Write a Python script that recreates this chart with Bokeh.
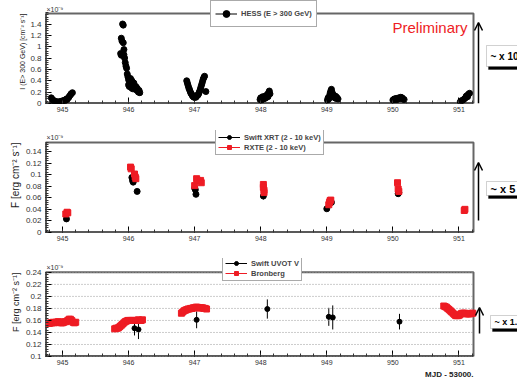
from bokeh.plotting import figure
from bokeh.layouts import column
from bokeh.models import (Label, Arrow, OpenHead, Legend, LegendItem, Whisker, Title, BoxAnnotation,
                          ColumnDataSource, CustomJSTickFormatter, Range1d, FixedTicker)
from bokeh.embed import file_html
from bokeh.resources import INLINE

FONT = "Liberation Sans"

# ---------------- data (MJD - 53000) ----------------
hess_mjd = [944.83, 944.85, 944.86, 944.88, 944.89, 944.91, 944.92, 944.94, 944.95, 944.97, 944.98,
            945.00, 945.01, 945.03, 945.04, 945.06, 945.07, 945.09, 945.10, 945.12, 945.13, 945.15,
            945.88, 945.89, 945.89, 945.90, 945.91, 945.92, 945.92, 945.93, 945.93, 945.94, 945.95,
            945.96, 945.97, 945.98, 945.99, 946.00, 946.00, 946.01, 946.02, 946.03, 946.03, 946.04,
            946.05, 946.06, 946.06, 946.07, 946.08, 946.09, 946.10, 946.11, 946.12, 946.13, 946.14,
            946.15, 946.16, 946.17,
            946.88, 946.89, 946.90, 946.91, 946.92, 946.93, 946.94, 946.95, 946.96, 946.97, 946.98,
            946.99, 947.00, 947.01, 947.02, 947.03, 947.04, 947.05, 947.06, 947.07, 947.08, 947.09,
            947.10, 947.11, 947.12, 947.13, 947.14, 947.15, 947.17,
            947.99, 948.00, 948.01, 948.02, 948.03, 948.04, 948.05, 948.06, 948.07, 948.08, 948.09,
            948.10, 948.11, 948.12, 948.13, 948.14,
            949.01, 949.02, 949.03, 949.04, 949.05, 949.06, 949.07, 949.08, 949.09, 949.10, 949.11,
            949.12, 949.13, 949.14, 949.15, 949.17,
            950.00, 950.02, 950.03, 950.05, 950.06, 950.08, 950.09, 950.11, 950.12, 950.14, 950.15,
            950.17,
            951.02, 951.04, 951.06, 951.08, 951.10, 951.11, 951.13, 951.14, 951.16]
hess_flux = [0.10, 0.07, 0.05, 0.03, 0.04, 0.02, 0.03, 0.02, 0.03, 0.02, 0.04,
             0.03, 0.05, 0.04, 0.06, 0.08, 0.07, 0.10, 0.12, 0.15, 0.17, 0.19,
             0.88, 0.85, 1.15, 1.10, 1.40, 1.38, 1.07, 0.95, 0.86, 0.80, 0.72,
             0.66, 0.62, 0.52, 0.47, 0.42, 0.33, 0.30, 0.38, 0.44, 0.34, 0.28,
             0.40, 0.35, 0.26, 0.31, 0.36, 0.29, 0.25, 0.30, 0.24, 0.27, 0.22,
             0.20, 0.23, 0.19,
             0.40, 0.36, 0.32, 0.28, 0.25, 0.22, 0.19, 0.17, 0.15, 0.13, 0.12,
             0.11, 0.11, 0.12, 0.11, 0.13, 0.14, 0.15, 0.17, 0.20, 0.23, 0.27,
             0.31, 0.35, 0.39, 0.43, 0.46, 0.48, 0.21,
             0.07, 0.10, 0.06, 0.09, 0.12, 0.08, 0.11, 0.09, 0.13, 0.10, 0.14,
             0.16, 0.12, 0.19, 0.22, 0.17,
             0.06, 0.10, 0.08, 0.13, 0.18, 0.22, 0.25, 0.20, 0.16, 0.12, 0.14,
             0.10, 0.13, 0.09, 0.11, 0.08,
             0.06, 0.08, 0.07, 0.09, 0.07, 0.08, 0.10, 0.09, 0.11, 0.10, 0.08,
             0.07,
             0.03, 0.05, 0.06, 0.08, 0.10, 0.13, 0.12, 0.16, 0.18]

xrt_mjd = [945.06, 946.05, 946.06, 946.07, 946.13, 947.00, 947.01, 947.02, 948.04, 949.00, 949.07,
           950.08, 950.09]
xrt_flux = [0.0235, 0.095, 0.090, 0.087, 0.071, 0.077, 0.074, 0.066, 0.063, 0.041, 0.052,
            0.067, 0.069]
xrt_err = [0.002, 0.003, 0.003, 0.003, 0.002, 0.003, 0.003, 0.003, 0.006, 0.002, 0.002,
           0.002, 0.002]

rxte_mjd = [945.05, 945.07, 945.08, 946.03, 946.04, 946.09, 946.10, 946.11,
            947.00, 947.03, 947.04, 947.09, 947.10, 948.04, 948.04, 948.05, 948.05,
            949.03, 949.04, 949.05, 949.06, 950.07, 950.08, 950.09, 951.08, 951.09]
rxte_flux = [0.032, 0.035, 0.034, 0.113, 0.110, 0.101, 0.096, 0.093,
             0.081, 0.093, 0.090, 0.090, 0.086, 0.083, 0.078, 0.073, 0.069,
             0.048, 0.052, 0.055, 0.056, 0.086, 0.075, 0.071, 0.038, 0.040]

uvot_mjd = [946.09, 946.15, 947.03, 948.10, 949.03, 949.09, 950.10]
uvot_flux = [0.147, 0.145, 0.161, 0.179, 0.166, 0.165, 0.158]
uvot_err = [0.012, 0.016, 0.014, 0.016, 0.015, 0.020, 0.013]

bron_mjd = [944.80, 944.82, 944.84, 944.86, 944.88, 944.90, 944.92, 944.94, 944.96, 944.98,
            945.00, 945.02, 945.04, 945.06, 945.08, 945.10, 945.12, 945.14, 945.16, 945.18,
            945.20,
            945.79, 945.81, 945.83, 945.85, 945.87, 945.89, 945.91, 945.93, 945.95, 945.97,
            945.99, 946.01, 946.03, 946.05, 946.07, 946.09, 946.11, 946.13, 946.15, 946.17,
            946.19, 946.21,
            946.80, 946.82, 946.84, 946.86, 946.88, 946.90, 946.92, 946.94, 946.96, 946.98,
            947.00, 947.02, 947.04, 947.06, 947.08, 947.10, 947.12, 947.14, 947.16, 947.18,
            950.77, 950.79, 950.81, 950.83, 950.85, 950.87, 950.89, 950.91, 950.93, 950.95,
            950.97, 950.99, 951.01, 951.03, 951.05, 951.07, 951.09, 951.11, 951.13, 951.15,
            951.17, 951.19, 951.21]
bron_flux = [0.155, 0.156, 0.156, 0.157, 0.156, 0.157, 0.157, 0.158, 0.157, 0.156,
             0.156, 0.157, 0.158, 0.158, 0.160, 0.162, 0.162, 0.160, 0.157, 0.156,
             0.157,
             0.146, 0.147, 0.147, 0.148, 0.150, 0.152, 0.154, 0.156, 0.158, 0.159,
             0.160, 0.160, 0.160, 0.160, 0.160, 0.160, 0.160, 0.160, 0.161, 0.160,
             0.160, 0.161,
             0.172, 0.174, 0.176, 0.177, 0.178, 0.179, 0.179, 0.180, 0.180, 0.181,
             0.181, 0.182, 0.182, 0.181, 0.181, 0.181, 0.181, 0.180, 0.180, 0.179,
             0.184, 0.183, 0.182, 0.180, 0.178, 0.176, 0.174, 0.172, 0.170, 0.168,
             0.168, 0.168, 0.169, 0.171, 0.172, 0.172, 0.172, 0.171, 0.171, 0.171,
             0.171, 0.172, 0.172]

x_ticks = [945, 946, 947, 948, 949, 950, 951]
y_ticks_hess = [0, 0.2, 0.4, 0.6, 0.8, 1.0, 1.2, 1.4]
y_ticks_xray = [0, 0.02, 0.04, 0.06, 0.08, 0.10, 0.12, 0.14]
y_ticks_opt = [0.10, 0.12, 0.14, 0.16, 0.18, 0.20, 0.22, 0.24]
scale_labels = ["~ x 100", "~ x 5", "~ x 1.3"]
X0, X1 = 944.743, 951.22

W = 517
FL, FR = 45, 473          # visible chart box, left/right page px
RED = "#ee1c24"
NAN = float("nan")


def steps(start, stop, step):
    n = int(round((stop - start) / step))
    return [round(start + i * step, 6) for i in range(n + 1)]


x_minor = steps(944.8, 951.2, 0.2)


def base_fig(H, T, ext_top, frame_top, frame_bottom, y0, y1, major, minor_step, ylabel, ysize):
    """Plot frame is extended up to ext_top and right to the window edge so that the
    legends, labels and scale arrows fit; the visible chart box is drawn explicitly."""
    y_ext = y0 + (y1 - y0) * (frame_bottom - ext_top) / (frame_bottom - frame_top)
    x_ext = X0 + (X1 - X0) * (W - FL) / (FR - FL)
    p = figure(width=W, height=H, output_backend="svg", toolbar_location=None,
               x_range=Range1d(X0, x_ext), y_range=Range1d(y0, y_ext))
    p.min_border_left = FL
    p.min_border_right = 0
    p.min_border_top = ext_top - T
    p.min_border_bottom = T + H - frame_bottom
    p.outline_line_color = None
    p.xgrid.visible = False
    p.ygrid.visible = False
    for ax in (p.xaxis[0], p.yaxis[0]):
        ax.major_tick_in = 6
        ax.major_tick_out = 0
        ax.minor_tick_in = 3
        ax.minor_tick_out = 0
        ax.major_label_text_font = FONT
        ax.major_label_text_color = "#333333"
        ax.minor_tick_line_color = "#333333"
        ax.axis_line_color = None
    p.xaxis.ticker = FixedTicker(ticks=x_ticks, minor_ticks=x_minor)
    p.yaxis.ticker = FixedTicker(ticks=major, minor_ticks=steps(y0, y1, minor_step))
    p.xaxis.major_label_text_font_size = "7px"
    p.xaxis.major_label_standoff = 3
    p.yaxis.major_label_text_font_size = "8px"
    p.yaxis.major_label_standoff = 4
    p.yaxis.formatter = CustomJSTickFormatter(code="return (+tick.toFixed(3)).toString();")
    # visible chart box
    p.quad(left=[X0], right=[X1], bottom=[y0], top=[y1], fill_color=None,
           line_color="#666666", line_width=2)
    p.segment(x0=[X0, X0], y0=[y0, y0], x1=[X0, X1], y1=[y1, y0], line_color="black",
              line_width=2)
    p.add_layout(Title(text=ylabel, align="right", offset=frame_top - ext_top,
                       standoff=3, text_font=FONT, text_font_size=ysize,
                       text_font_style="normal", text_color="#222222"), "left")
    return p


def add_label(p, T, px, py, text, **kw):
    # canvas units: measured from the top-left corner of this figure's canvas
    p.add_layout(Label(x=px, y=py - T, x_units="canvas", y_units="canvas",
                       text=text, text_font=FONT, **kw))


def scale_marker(p, T, ax, ay0, ay1, bx, by0, by1, text, fsize):
    cu = dict(left_units="canvas", right_units="canvas", top_units="canvas",
              bottom_units="canvas")
    p.add_layout(Arrow(end=OpenHead(size=8, line_width=1.5, line_color="black"),
                       x_start=ax, y_start=ay0 - T, x_end=ax, y_end=ay1 - T,
                       start_units="canvas", end_units="canvas",
                       line_width=1.5, line_color="black"))
    p.add_layout(BoxAnnotation(left=bx + 2, right=W + 20, top=by0 + 3 - T,
                               bottom=by1 + 3 - T, fill_color="black", fill_alpha=1,
                               line_color="black", **cu))
    p.add_layout(BoxAnnotation(left=bx, right=W + 20, top=by0 - T, bottom=by1 - T,
                               fill_color="white", fill_alpha=1, line_color="#666666",
                               line_width=1, **cu))
    add_label(p, T, bx + 4, (by0 + by1) / 2, text, text_font_size=fsize,
              text_font_style="bold", text_baseline="middle", text_color="black")


def legend_line(p, color):
    return p.line([NAN], [NAN], line_color=color, line_width=1)


def make_legend(entries, loc, row_h, pad):
    return Legend(items=[LegendItem(label=t, renderers=r) for t, r in entries],
                  location=loc, padding=pad, spacing=0, margin=0, glyph_height=row_h,
                  glyph_width=22, label_height=row_h, label_text_font=FONT,
                  label_text_font_size="7.5px", label_text_font_style="bold",
                  border_line_color="#555555", label_standoff=4,
                  background_fill_color="white", background_fill_alpha=1)


# ---------------- panel 1 : HESS ----------------
H1, T1 = 125, 0
p1 = base_fig(H1, T1, 0, 13, 103, 0, 1.585, y_ticks_hess, 0.04,
              "I (E> 300 GeV) [cm⁻² s⁻¹]", "7px")
r1 = p1.scatter(hess_mjd, hess_flux, size=6, color="black", marker="circle")
l1 = legend_line(p1, "black")
p1.add_layout(make_legend([("HESS (E > 300 GeV)", [l1, r1])], (165, 76), 17, 4), "center")
add_label(p1, T1, 46, 12, "×10⁻⁹", text_font_size="7px", text_color="#333333")
add_label(p1, T1, 467, 27, "Preliminary", text_font_size="15px", text_color=RED,
          text_align="right", text_baseline="middle")
scale_marker(p1, T1, 478, 103, 22, 486, 45, 66, scale_labels[0], "10px")

# ---------------- panel 2 : X-ray ----------------
H2, T2 = 125, 125
p2 = base_fig(H2, T2, 130, 142, 232, 0, 0.1555, y_ticks_xray, 0.004,
              "F [erg cm⁻² s⁻¹]", "10px")
p2.add_layout(Whisker(base="x", upper="u", lower="l", line_color="black", line_width=1,
                      upper_head=None, lower_head=None,
                      source=ColumnDataSource(dict(
                          x=xrt_mjd,
                          u=[f + e for f, e in zip(xrt_flux, xrt_err)],
                          l=[f - e for f, e in zip(xrt_flux, xrt_err)]))))
r2a = p2.scatter(xrt_mjd, xrt_flux, size=6, color="black", marker="circle")
r2b = p2.scatter(rxte_mjd, rxte_flux, size=6, color=RED, marker="square")
l2a = legend_line(p2, "black")
l2b = legend_line(p2, RED)
p2.add_layout(make_legend([("Swift XRT (2 - 10 keV)", [l2a, r2a]),
                           ("RXTE (2 - 10 keV)", [l2b, r2b])], (170, 77), 10, 2), "center")
add_label(p2, T2, 46, 140, "×10⁻⁹", text_font_size="7px", text_color="#333333")
scale_marker(p2, T2, 478, 220, 162, 486, 181, 195, scale_labels[1], "11px")

# ---------------- panel 3 : optical ----------------
H3, T3 = 128, 250
p3 = base_fig(H3, T3, 258, 272, 357, 0.1, 0.24, y_ticks_opt, 0.004,
              "F [erg cm⁻² s⁻¹]", "9px")
p3.segment(x0=[X0] * len(y_ticks_opt), x1=[X1] * len(y_ticks_opt), y0=y_ticks_opt,
           y1=y_ticks_opt, line_color="#999999", line_dash="1 2", line_width=1)
p3.add_layout(Whisker(base="x", upper="u", lower="l", line_color="black", line_width=1,
                      upper_head=None, lower_head=None,
                      source=ColumnDataSource(dict(
                          x=uvot_mjd,
                          u=[f + e for f, e in zip(uvot_flux, uvot_err)],
                          l=[f - e for f, e in zip(uvot_flux, uvot_err)]))))
r3a = p3.scatter(uvot_mjd, uvot_flux, size=5, color="black", marker="circle")
r3b = p3.scatter(bron_mjd, bron_flux, size=6, color=RED, marker="square")
l3a = legend_line(p3, "black")
l3b = legend_line(p3, RED)
p3.add_layout(make_legend([("Swift UVOT V", [l3a, r3a]),
                           ("Bronberg", [l3b, r3b])], (177, 75), 10, 2), "center")
add_label(p3, T3, 46, 270, "×10⁻⁹", text_font_size="7px", text_color="#333333")
p3.add_layout(Title(text="MJD - 53000.", align="right", offset=W - FR, standoff=0,
                    text_font=FONT, text_font_size="8px", text_font_style="bold",
                    text_color="#222222"), "below")
scale_marker(p3, T3, 479, 333, 307, 490, 315, 328, scale_labels[2], "9px")

layout = column(p1, p2, p3, spacing=0)
open("out.html", "w").write(file_html(layout, INLINE))
